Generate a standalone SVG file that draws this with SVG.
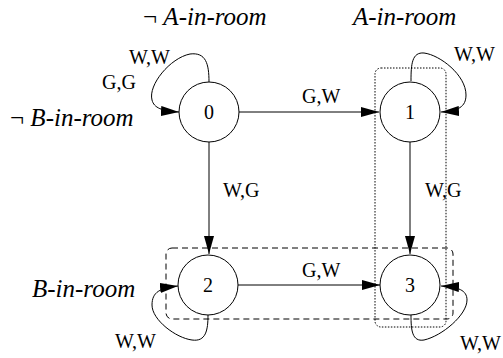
<svg xmlns="http://www.w3.org/2000/svg" width="503" height="358" viewBox="0 0 503 358">
<style>
text{font-family:'Liberation Serif','Times New Roman','DejaVu Serif',serif}
.node{fill:#fff;stroke:#000;stroke-width:1}
.num{font-size:20px;text-anchor:middle}
.lbl{font-size:20px}
.prop{font-size:25px}
.it{font-style:italic}
.edge{fill:none;stroke:#000;stroke-width:1;marker-end:url(#arr)}
</style>
<defs>
<marker id="arr" markerUnits="userSpaceOnUse" viewBox="0 0 18 10" markerWidth="18" markerHeight="10" refX="18" refY="5" orient="auto">
<path d="M0,0 L18,5 L0,10 z" fill="#000"/>
</marker>
</defs>
<rect x="0" y="0" width="503" height="358" fill="#fff"/>
<g id="groups">
<rect x="375" y="68" width="71" height="259" rx="6" fill="none" stroke="#000" stroke-width="1" stroke-dasharray="1.5,1.5"/>
<rect x="166" y="248" width="287" height="71" rx="6" fill="none" stroke="#000" stroke-width="1" stroke-dasharray="6,4"/>
</g>
<g id="props">
<text class="prop" x="143" y="25">¬ <tspan class="it">A-in-room</tspan></text>
<text class="prop it" x="353" y="25">A-in-room</text>
<text class="prop" x="10" y="126">¬ <tspan class="it">B-in-room</tspan></text>
<text class="prop it" x="32" y="297">B-in-room</text>
</g>
<g id="connectors">
<path class="edge" d="M239,112 L379,112"/>
<path class="edge" d="M209,142 L209,254"/>
<path class="edge" d="M410,142 L410,254"/>
<path class="edge" d="M238,285 L380,285"/>
<path class="edge" d="M209,82 C209,64 206,52 190,54 C170,58 148,85 152,100 C154,108 162,111 179,112"/>
<path class="edge" d="M411,81 C411,64 412,52 424,53 C440,55 466,75 466,95 C466,107 458,111 441,112"/>
<path class="edge" d="M208,315 C208,330 206,342 192,340 C176,338 152,320 152,305 C152,292 160,288 178,286"/>
<path class="edge" d="M411,315 C411,330 412,342 424,340 C442,336 467,315 467,300 C467,290 458,287 441,286"/>
<text class="lbl" x="129" y="64">W,W</text>
<text class="lbl" x="102" y="89">G,G</text>
<text class="lbl" x="302" y="103">G,W</text>
<text class="lbl" x="454" y="61">W,W</text>
<text class="lbl" x="223" y="197">W,G</text>
<text class="lbl" x="425" y="197">W,G</text>
<text class="lbl" x="302" y="277">G,W</text>
<text class="lbl" x="115" y="348">W,W</text>
<text class="lbl" x="460" y="350">W,W</text>
</g>
<g id="n0"><circle class="node" cx="209" cy="112" r="30"/><text class="num" x="209" y="119">0</text></g>
<g id="n1"><circle class="node" cx="410" cy="112" r="30"/><text class="num" x="410" y="119">1</text></g>
<g id="n2"><circle class="node" cx="208" cy="285" r="30"/><text class="num" x="208" y="292">2</text></g>
<g id="n3"><circle class="node" cx="410" cy="285" r="30"/><text class="num" x="410" y="292">3</text></g>
</svg>
